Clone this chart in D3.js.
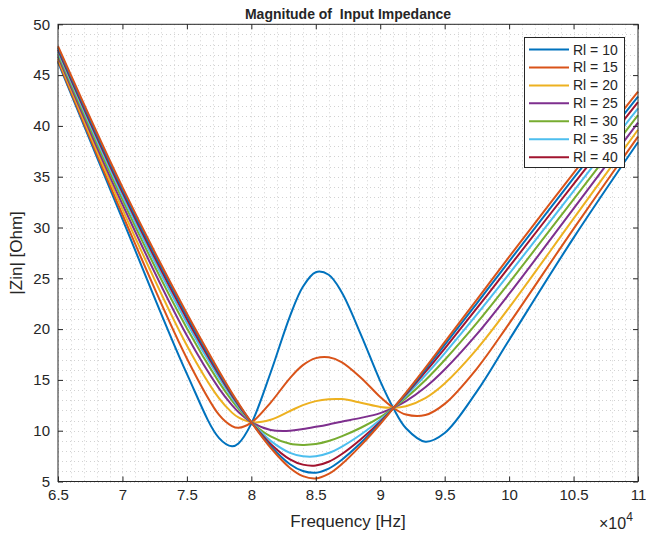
<!DOCTYPE html>
<html>
<head>
<meta charset="utf-8">
<script src="https://cdn.jsdelivr.net/npm/d3@7"></script>
<style>
body { margin: 0; background: #fff; }
text { font-family: "Liberation Sans", Arial, Helvetica, sans-serif; fill: #262626; }
</style>
</head>
<body>
<div id="display"></div>
<script>
// frequency in units of 10^4 Hz
var freq = [6.5, 7.0, 7.5, 7.75, 7.85, 7.9, 8.0, 8.15, 8.3, 8.4, 8.5, 8.6, 8.7, 8.85, 9.0, 9.1, 9.2, 9.35, 9.5, 9.75, 10.0, 10.5, 11.0];

// |Zin|, one array per load resistance
var z10 = [46.27, 30.82, 15.60, 9.27, 8.47, 8.75, 10.70, 15.73, 21.28, 24.17, 25.60, 25.35, 23.65, 19.46, 14.88, 12.26, 10.24, 8.92, 9.77, 13.87, 18.93, 28.98, 38.39];
var z15 = [46.43, 31.28, 17.11, 11.55, 10.45, 10.28, 10.79, 12.77, 15.18, 16.45, 17.14, 17.23, 16.76, 15.22, 13.32, 12.27, 11.59, 11.54, 12.64, 16.12, 20.54, 29.87, 38.95];
var z20 = [46.63, 31.79, 18.39, 13.18, 11.78, 11.30, 10.83, 11.08, 11.94, 12.52, 12.91, 13.10, 13.11, 12.76, 12.34, 12.26, 12.41, 13.21, 14.65, 18.03, 22.11, 30.87, 39.62];
var z25 = [46.85, 32.29, 19.36, 14.14, 12.51, 11.84, 10.84, 10.07, 9.99, 10.16, 10.38, 10.62, 10.89, 11.26, 11.73, 12.25, 12.91, 14.27, 16.02, 19.50, 23.46, 31.86, 40.33];
var z30 = [47.07, 32.74, 20.08, 14.76, 12.96, 12.17, 10.84, 9.43, 8.71, 8.60, 8.68, 8.98, 9.44, 10.29, 11.34, 12.23, 13.23, 14.97, 16.96, 20.61, 24.56, 32.77, 41.05];
var z35 = [47.29, 33.13, 20.61, 15.18, 13.26, 12.38, 10.84, 9.00, 7.82, 7.49, 7.48, 7.81, 8.42, 9.63, 11.08, 12.22, 13.43, 15.45, 17.62, 21.44, 25.43, 33.58, 41.72];
var z40 = [47.49, 33.46, 21.00, 15.48, 13.46, 12.53, 10.83, 8.70, 7.18, 6.66, 6.57, 6.94, 7.68, 9.16, 10.89, 12.21, 13.57, 15.78, 18.09, 22.06, 26.12, 34.27, 42.34];
var z45 = [47.67, 33.74, 21.31, 15.69, 13.61, 12.63, 10.83, 8.48, 6.70, 6.03, 5.86, 6.27, 7.12, 8.81, 10.76, 12.20, 13.67, 16.02, 18.44, 22.54, 26.67, 34.85, 42.89];
var z50 = [47.84, 33.97, 21.53, 15.85, 13.71, 12.71, 10.83, 8.32, 6.33, 5.53, 5.30, 5.74, 6.69, 8.56, 10.66, 12.19, 13.75, 16.19, 18.71, 22.91, 27.11, 35.35, 43.38];

var allZ = [z10, z15, z20, z25, z30, z35, z40, z45, z50];
var legendNames = ["Rl = 10", "Rl = 15", "Rl = 20", "Rl = 25", "Rl = 30", "Rl = 35", "Rl = 40"];
var colors = ["#0072BD", "#D95319", "#EDB120", "#7E2F8E", "#77AC30", "#4DBEEE", "#A2142F"];

var xTicks = [6.5, 7, 7.5, 8, 8.5, 9, 9.5, 10, 10.5, 11];
var yTicks = [5, 10, 15, 20, 25, 30, 35, 40, 45, 50];

var W = 646, H = 537;
var pl = 58, pr = 638, pt = 24.3, pb = 481.5;

var x = d3.scaleLinear().domain([6.5, 11]).range([pl, pr]);
var y = d3.scaleLinear().domain([5, 50]).range([pb, pt]);

var svg = d3.select("#display").append("svg")
    .attr("width", W)
    .attr("height", H);

svg.append("rect").attr("x", pl).attr("y", pt)
    .attr("width", pr - pl).attr("height", pb - pt).attr("fill", "#fff");

// dotted grid (major + minor)
var gx = d3.range(65, 111).map(function(d) { return d / 10; });
var gy = d3.range(5, 51);
var grid = svg.append("g").attr("stroke", "#d2d2d2").attr("stroke-width", 1).attr("stroke-dasharray", "1,3");
grid.selectAll(".gv").data(gx).enter().append("line")
    .attr("x1", function(d) { return Math.round(x(d)) + 0.5; })
    .attr("x2", function(d) { return Math.round(x(d)) + 0.5; })
    .attr("y1", pt).attr("y2", pb);
grid.selectAll(".gh").data(gy).enter().append("line")
    .attr("y1", function(d) { return Math.round(y(d)) + 0.5; })
    .attr("y2", function(d) { return Math.round(y(d)) + 0.5; })
    .attr("x1", pl).attr("x2", pr);

// curves
var line = d3.line()
    .x(function(d) { return x(d[0]); })
    .y(function(d) { return y(d[1]); })
    .curve(d3.curveCatmullRom.alpha(0.5));

allZ.forEach(function(z, i) {
    var pts = freq.map(function(f, k) { return [f, z[k]]; });
    svg.append("path")
        .attr("d", line(pts))
        .attr("fill", "none")
        .attr("stroke", colors[i % colors.length])
        .attr("stroke-width", 2);
});

// axes, ticks inside on all four sides
var xb = svg.append("g").attr("transform", "translate(0," + pb + ")")
    .call(d3.axisBottom(x).tickValues(xTicks).tickSizeInner(-5).tickSizeOuter(0).tickPadding(8)
        .tickFormat(function(d) { return String(d); }));
var xt = svg.append("g").attr("transform", "translate(0," + pt + ")")
    .call(d3.axisTop(x).tickValues(xTicks).tickSizeInner(-5).tickSizeOuter(0).tickFormat(""));
var yl = svg.append("g").attr("transform", "translate(" + pl + ",0)")
    .call(d3.axisLeft(y).tickValues(yTicks).tickSizeInner(-5).tickSizeOuter(0).tickPadding(8));
var yr = svg.append("g").attr("transform", "translate(" + pr + ",0)")
    .call(d3.axisRight(y).tickValues(yTicks).tickSizeInner(-5).tickSizeOuter(0).tickFormat(""));

[xb, xt, yl, yr].forEach(function(a) {
    a.select(".domain").remove();
    a.selectAll("line").attr("stroke", "#262626");
    a.selectAll("text").attr("font-size", 15).attr("fill", "#262626")
        .style("font-family", "'Liberation Sans', Arial, sans-serif");
});

svg.append("rect").attr("x", pl).attr("y", pt)
    .attr("width", pr - pl).attr("height", pb - pt)
    .attr("fill", "none").attr("stroke", "#262626").attr("stroke-width", 1);

// title and labels
svg.append("text").attr("x", (pl + pr) / 2).attr("y", 19)
    .attr("text-anchor", "middle").attr("font-size", 14).attr("font-weight", "bold")
    .style("white-space", "pre").attr("fill", "#000")
    .text("Magnitude of  Input Impedance");

svg.append("text").attr("x", (pl + pr) / 2).attr("y", 527)
    .attr("text-anchor", "middle").attr("font-size", 17)
    .text("Frequency [Hz]");

svg.append("text").attr("transform", "translate(22," + ((pt + pb) / 2) + ") rotate(-90)")
    .attr("text-anchor", "middle").attr("font-size", 17)
    .text("|Zin| [Ohm]");

var expo = svg.append("text").attr("x", 599).attr("y", 529).attr("font-size", 16).attr("fill", "#404040");
expo.append("tspan").text("\u00d710");
expo.append("tspan").attr("dy", -8).attr("font-size", 12).text("4");

// legend
var lg = svg.append("g");
lg.append("rect").attr("x", 524.5).attr("y", 37.5).attr("width", 100).attr("height", 130)
    .attr("fill", "#fff").attr("stroke", "#262626").attr("stroke-width", 1);
legendNames.forEach(function(name, i) {
    var ly = 49.5 + i * 17.95;
    lg.append("line").attr("x1", 529).attr("x2", 569).attr("y1", ly).attr("y2", ly)
        .attr("stroke", colors[i]).attr("stroke-width", 2);
    lg.append("text").attr("x", 573).attr("y", ly + 5).attr("font-size", 14).text(name);
});
</script>
</body>
</html>
